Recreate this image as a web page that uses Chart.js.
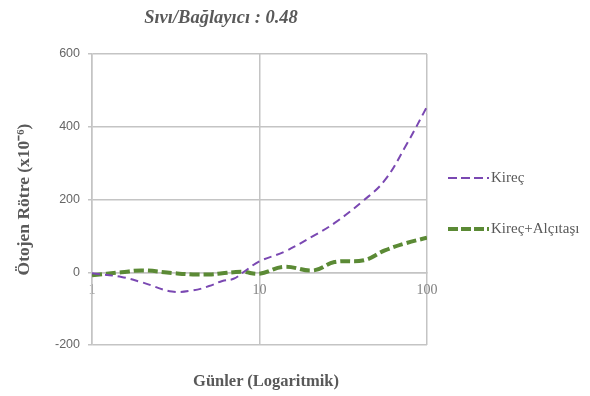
<!DOCTYPE html>
<html>
<head>
<meta charset="utf-8">
<script src="https://cdn.jsdelivr.net/npm/chart.js@4"></script>
<style>
  body { margin: 0; background: #fff; }
  #wrap { position: relative; width: 590px; height: 396px; }
  .lbl { position: absolute; font-family: "Liberation Serif", serif; font-weight: bold; color: #595959; white-space: nowrap; }
  #title { left: 221px; top: 17px; transform: translate(-50%, -50%); font-size: 18.5px; font-style: italic; }
  #xtitle { left: 266px; top: 381px; transform: translate(-50%, -50%); font-size: 16.5px; }
</style>
</head>
<body>
<div id="wrap">
  <canvas id="myChart" width="590" height="396"></canvas>
  <div class="lbl" id="title">Sıvı/Bağlayıcı : 0.48</div>
  <div class="lbl" id="xtitle">Günler (Logaritmik)</div>
</div>
<script>
// gün değerleri (log eksen)
const days = [1, 1.5, 2, 3, 4, 5, 6, 7, 8, 10, 14, 21, 28, 42, 56, 75, 100];
const kirec = [-3, -13, -28, -53, -50, -38, -24, -18, 0, 30, 56, 100, 135, 198, 253, 349, 455];
const kirecAlcitasi = [-8, 0, 5, -2, -6, -6, -3, 0, 1, -4, 15, 5, 28, 33, 60, 80, 95];
const xTicks = [1, 10, 100];
const seriesNames = ["Kireç", "Kireç+Alçıtaşı"];

const gridColor = "#c4c4c4";

// sağdaki legend'i kesik çizgilerle çiz
const dashLegend = {
    id: "dashLegend",
    afterDraw(chart) {
        const ctx = chart.ctx;
        const rows = [178, 229];
        const dashes = [[9, 4], [10, 3]];
        chart.data.datasets.forEach((ds, i) => {
            ctx.save();
            ctx.strokeStyle = ds.borderColor;
            ctx.lineWidth = ds.borderWidth;
            ctx.setLineDash(dashes[i]);
            ctx.beginPath();
            ctx.moveTo(448, rows[i]);
            ctx.lineTo(489, rows[i]);
            ctx.stroke();
            ctx.restore();
            ctx.fillStyle = "#595959";
            ctx.font = "15px 'Liberation Serif'";
            ctx.textBaseline = "middle";
            ctx.fillText(ds.label, 491, rows[i]);
        });
    }
};

const ctx = document.getElementById("myChart").getContext("2d");
const myChart = new Chart(ctx, {
    type: "line",
    data: {
        datasets: [
            {
                label: seriesNames[0],
                data: days.map((d, i) => ({ x: d, y: kirec[i] })),
                borderColor: "#7a48b2",
                borderWidth: 2,
                borderDash: [8, 5],
                pointRadius: 0,
                tension: 0.4,
                fill: false
            },
            {
                label: seriesNames[1],
                data: days.map((d, i) => ({ x: d, y: kirecAlcitasi[i] })),
                borderColor: "#5b8a35",
                borderWidth: 4,
                borderDash: [10, 4],
                pointRadius: 0,
                tension: 0.4,
                fill: false
            }
        ]
    },
    options: {
        responsive: false,
        animation: false,
        layout: { padding: { left: 0, right: 163, top: 54, bottom: 51 } },
        plugins: {
            legend: { display: false },
            tooltip: { enabled: false }
        },
        scales: {
            x: {
                type: "logarithmic",
                position: { y: 0 },
                min: 1,
                max: 100,
                afterBuildTicks: scale => {
                    scale.ticks = xTicks.map(v => ({ value: v }));
                },
                ticks: {
                    callback: v => String(v),
                    color: "#808080",
                    font: { family: "Liberation Serif", size: 14 },
                    padding: 10,
                    maxRotation: 0
                },
                grid: { color: gridColor, lineWidth: 1.5, drawTicks: false },
                border: { color: gridColor, width: 1.5 }
            },
            y: {
                min: -200,
                max: 600,
                afterFit: scale => { scale.width = 92; },
                ticks: {
                    stepSize: 200,
                    color: "#666666",
                    font: { family: "Liberation Sans", size: 12.5 },
                    padding: 8
                },
                grid: { color: gridColor, lineWidth: 1.5, tickLength: 4 },
                border: { color: gridColor, width: 1.5 },
                title: {
                    display: true,
                    text: "Ötojen Rötre (x10⁻⁶)",
                    color: "#595959",
                    font: { family: "Liberation Serif", size: 17.5, weight: "bold" },
                    padding: { top: 14, bottom: 0 }
                }
            }
        }
    },
    plugins: [dashLegend]
});
</script>
</body>
</html>
